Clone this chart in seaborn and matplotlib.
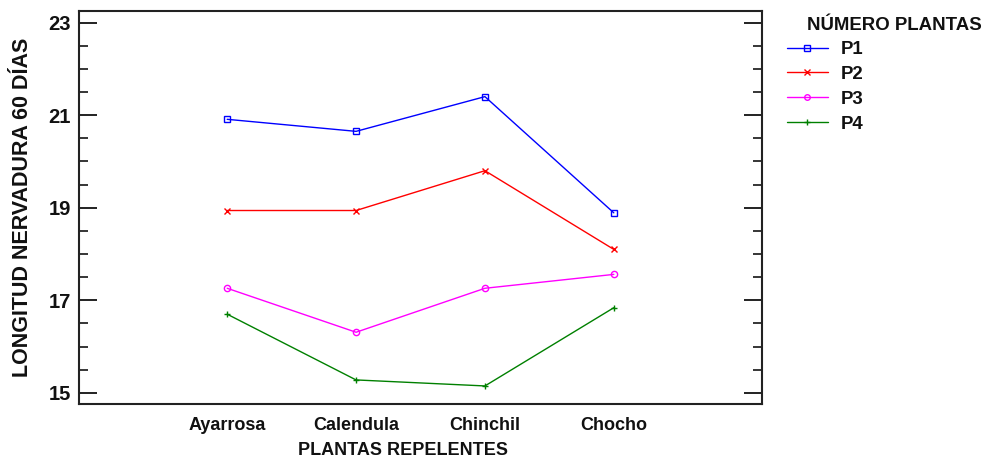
import numpy as np
import pandas as pd
import matplotlib
matplotlib.use("Agg")
import matplotlib.pyplot as plt
import seaborn as sns
from matplotlib.ticker import MultipleLocator
from matplotlib.lines import Line2D

# Mean leaf-vein length at 60 days by repellent plant and plant count
plantas = ["Ayarrosa", "Calendula", "Chinchil", "Chocho"]
series = ["P1", "P2", "P3", "P4"]
p1 = [20.91, 20.65, 21.40, 18.89]
p2 = [18.94, 18.94, 19.80, 18.10]
p3 = [17.26, 16.31, 17.26, 17.56]
p4 = [16.70, 15.28, 15.15, 16.84]
y_ticks = [15, 17, 19, 21, 23]

colors = {"P1": "#0000ff", "P2": "#ff0000", "P3": "#ff00ff", "P4": "#008000"}
markers = {"P1": "s", "P2": "x", "P3": "o", "P4": "+"}

df = pd.DataFrame({
    "planta": plantas * 4,
    "valor": p1 + p2 + p3 + p4,
    "serie": [s for s in series for _ in plantas],
})

sns.set_theme(style="white")
plt.rcParams["font.family"] = ["Liberation Sans", "DejaVu Sans"]
plt.rcParams["font.weight"] = "bold"

fig = plt.figure(figsize=(9.87, 4.61), dpi=100)
ax = fig.add_axes([79 / 987, 1 - 404 / 461, (762 - 79) / 987, (404 - 11) / 461])

sns.lineplot(data=df, x="planta", y="valor", hue="serie",
             hue_order=series, palette=colors, sort=False, legend=False,
             linewidth=1.0, ax=ax)

for line, s in zip(ax.get_lines(), series):
    line.set_marker(markers[s])
    line.set_markersize(4.5)
    line.set_markeredgecolor(colors[s])
    line.set_markerfacecolor("none")
    line.set_markeredgewidth(1.0)

ax.set_xlim(-1.15, 4.15)
ax.set_ylim(14.76, 23.25)
ax.set_yticks(y_ticks)
ax.yaxis.set_minor_locator(MultipleLocator(0.5))

for sp in ax.spines.values():
    sp.set_visible(True)
    sp.set_color("#222222")
    sp.set_linewidth(1.5)

ax.tick_params(axis="y", which="major", direction="in", length=13, width=1.3,
               left=True, right=True, labelsize=14.5, pad=6, colors="#111111")
ax.tick_params(axis="y", which="minor", direction="in", length=6.5, width=1.3,
               left=True, right=True)
ax.tick_params(axis="x", which="both", length=0, labelsize=13, pad=9,
               colors="#111111")
for lbl in ax.get_xticklabels() + ax.get_yticklabels():
    lbl.set_fontweight("bold")

ax.set_xlabel("PLANTAS REPELENTES", fontsize=13, fontweight="bold",
              color="#111111", va="top")
ax.xaxis.set_label_coords(0.4737, -0.097)
ax.set_ylabel("LONGITUD NERVADURA 60 DÍAS", fontsize=15.5, fontweight="bold",
              color="#111111")
ax.yaxis.set_label_coords(-0.068, 0.5)

# Legend: title text plus line/marker entries
fig.text(807 / 987, 1 - 25 / 461, "NÚMERO PLANTAS", fontsize=13.4,
         fontweight="bold", color="#111111", ha="left", va="center")
handles = [Line2D([0], [0], color=colors[s], marker=markers[s], lw=1.0,
                  markersize=4, markerfacecolor="none",
                  markeredgecolor=colors[s]) for s in series]
leg = fig.legend(handles, series, loc="upper left",
                 bbox_to_anchor=(787 / 987, 1 - 41 / 461),
                 frameon=False, fontsize=13.4, handlelength=2.2,
                 handletextpad=0.7, labelspacing=0.42, borderpad=0,
                 borderaxespad=0)
for t in leg.get_texts():
    t.set_fontweight("bold")
    t.set_color("#111111")

fig.savefig("out.png", dpi=100)
